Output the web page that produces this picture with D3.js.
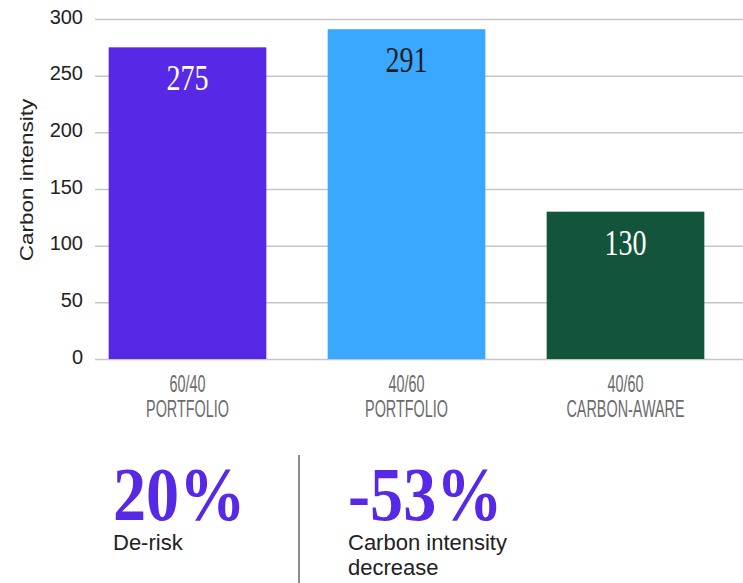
<!DOCTYPE html>
<html>
<head>
<meta charset="utf-8">
<script src="https://cdn.jsdelivr.net/npm/d3@7"></script>
<style>
body{margin:0;background:#fff;}
svg{display:block;}
</style>
</head>
<body>
<svg id="chart"></svg>
<script>
var categories = [["60/40","PORTFOLIO"],["40/60","PORTFOLIO"],["40/60","CARBON-AWARE"]];
var values = [275, 291, 130];
var barColors = ["#5729e6", "#3aa8ff", "#13553b"];
var valueColors = ["#ffffff", "#1e1e1e", "#ffffff"];
var yTicks = [0, 50, 100, 150, 200, 250, 300];
var statValues = ["20%", "-53%"];
var statLabels = [["De-risk"], ["Carbon intensity", "decrease"]];

width=743;
height=583;
var svg = d3.select("#chart")
    .attr("width",width)
    .attr("height",height);

var x = d3.scaleBand()
    .domain(d3.range(values.length))
    .range([78, 735])
    .paddingInner(0.28)
    .paddingOuter(0.14);

var y = d3.scaleLinear()
    .domain([0, 300])
    .range([359, 19]);

// gridlines + tick labels
var yAxis = d3.axisLeft(y)
    .tickValues(yTicks)
    .tickSize(-(width-95))
    .tickPadding(12);

var gy = svg.append("g")
    .attr("transform","translate(95,0)")
    .call(yAxis);
gy.select(".domain").remove();
gy.selectAll(".tick line")
    .attr("stroke","#c6c6c6")
    .attr("stroke-width",1.5);
gy.selectAll(".tick text")
    .attr("dy",null)
    .attr("y",4)
    .attr("fill","#222")
    .style("font-family","'Liberation Sans', Arial, sans-serif")
    .style("font-size","20px");

// y label
svg.append("text")
    .attr("transform","translate(33,180) rotate(-90) scale(1.25,1)")
    .attr("text-anchor","middle")
    .attr("fill","#222")
    .style("font-family","'Liberation Sans', Arial, sans-serif")
    .style("font-size","18px")
    .text("Carbon intensity");

// bars
svg.append("g").selectAll("rect")
    .data(values)
    .enter().append("rect")
    .attr("x",function(d,i){return x(i);})
    .attr("y",function(d){return y(d);})
    .attr("width",x.bandwidth())
    .attr("height",function(d){return y(0)-y(d);})
    .attr("fill",function(d,i){return barColors[i];});

// value labels
svg.append("g").selectAll("text")
    .data(values)
    .enter().append("text")
    .attr("transform",function(d,i){return "translate("+(x(i)+x.bandwidth()/2)+","+(y(d)+43)+") scale(0.78,1)";})
    .attr("text-anchor","middle")
    .attr("fill",function(d,i){return valueColors[i];})
    .style("font-family","'Liberation Serif', 'DejaVu Serif', serif")
    .style("font-size","36px")
    .text(function(d){return d;});

// category labels
var cat = svg.append("g").selectAll("g")
    .data(categories)
    .enter().append("g")
    .attr("transform",function(d,i){return "translate("+(x(i)+x.bandwidth()/2)+",0)";});
cat.selectAll("text")
    .data(function(d){return d;})
    .enter().append("text")
    .attr("transform",function(d,j){return "translate(0,"+(392+j*25)+") scale(0.6,1)";})
    .attr("text-anchor","middle")
    .attr("fill","#6b6b6b")
    .style("font-family","'Liberation Sans', Arial, sans-serif")
    .style("font-size","24px")
    .text(function(d){return d;});

// stats below
var statX = [113, 348];
svg.append("line")
    .attr("x1",299).attr("x2",299)
    .attr("y1",455).attr("y2",583)
    .attr("stroke","#666")
    .attr("stroke-width",1.5);

var st = svg.append("g").selectAll("g")
    .data(statValues)
    .enter().append("g")
    .attr("transform",function(d,i){return "translate("+statX[i]+",0)";});
st.append("text")
    .attr("transform","translate(0,520) scale(0.86,1)")
    .attr("fill","#5729e6")
    .style("font-family","'Liberation Serif', 'DejaVu Serif', serif")
    .style("font-weight","bold")
    .style("font-size","77px")
    .text(function(d){return d;});
st.selectAll(".lbl")
    .data(function(d,i){return statLabels[i];})
    .enter().append("text")
    .attr("class","lbl")
    .attr("y",function(d,j){return 550+j*25;})
    .attr("fill","#222")
    .style("font-family","'Liberation Sans', Arial, sans-serif")
    .style("font-size","22px")
    .text(function(d){return d;});
</script>
</body>
</html>
